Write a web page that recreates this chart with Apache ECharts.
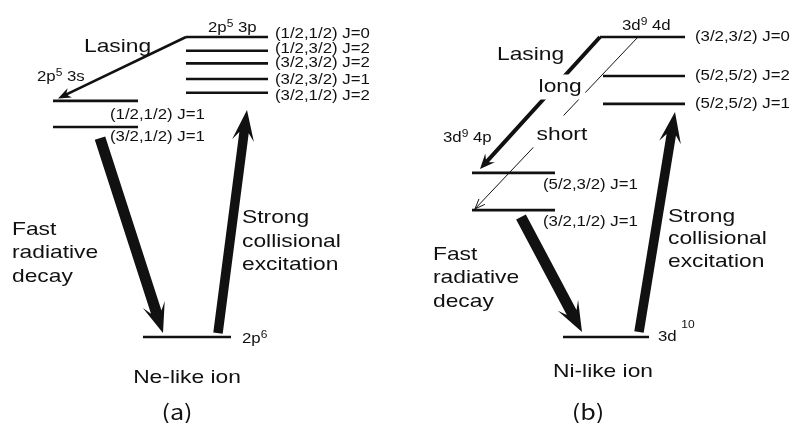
<!DOCTYPE html>
<html><head><meta charset="utf-8">
<script src="https://cdn.jsdelivr.net/npm/echarts@6/dist/echarts.min.js"></script>
<style>html,body{margin:0;padding:0;background:#fff}#c{width:795px;height:423px}</style>
</head><body><div id="c"></div>
<script>
// ---------------- data (energy in arbitrary units: ground = 0, upper laser level = 100)
const neUpperLabels = ['(1/2,1/2) J=0','(1/2,3/2) J=2','(3/2,3/2) J=2','(3/2,3/2) J=1','(3/2,1/2) J=2'];
const neUpperEnergies = [100, 95.4, 91.2, 86.0, 81.4];
const neLowerLabels = ['(1/2,1/2) J=1','(3/2,1/2) J=1'];
const neLowerEnergies = [78.7, 70.0];
const neGroundEnergy = 0;
const niUpperLabels = ['(3/2,3/2) J=0','(5/2,5/2) J=2','(5/2,5/2) J=1'];
const niUpperEnergies = [100, 87.0, 77.7];
const niLowerLabels = ['(5/2,3/2) J=1','(3/2,1/2) J=1'];
const niLowerEnergies = [54.7, 42.3];
const niGroundEnergy = 0;
// transitions: [from energy, to energy]
const neLasing = [100, 79.5];
const neDecay = [66.3, 1.3];
const neExcitation = [1.3, 75.7];
const niLasingLong = [100, 56.0];
const niLasingShort = [100, 42.7];
const niDecay = [40.0, 1.7];
const niExcitation = [1.7, 75.0];

// ---------------- layout (horizontal placement in diagram units, styles)
const FONT = '"Liberation Sans", Arial, Helvetica, sans-serif';
const INK = '#111';
const SX = 1.2;
const X = {
  neUpper:[186,268], neLower:[53,138], neGround:[143,231],
  niTop:[600,685], niUpper:[603,685], niLower:[472,555], niGround:[563,649]
};
const levelData = [];
neUpperEnergies.forEach(e => levelData.push([X.neUpper[0], X.neUpper[1], e]));
neLowerEnergies.forEach(e => levelData.push([X.neLower[0], X.neLower[1], e]));
levelData.push([X.neGround[0], X.neGround[1], neGroundEnergy]);
niUpperEnergies.forEach((e,i) => levelData.push([i === 0 ? X.niTop[0] : X.niUpper[0], X.niUpper[1], e]));
niLowerEnergies.forEach(e => levelData.push([X.niLower[0], X.niLower[1], e]));
levelData.push([X.niGround[0], X.niGround[1], niGroundEnergy]);

const ARROW = {
  thick:   {w: 11,  head: 30, hw: 11.5, notch: 8},
  thickUp: {w: 9.5, head: 31, hw: 11,   notch: 8},
  lasing:  {w: 2.6, head: 13, hw: 5,    notch: 3},
  long:    {w: 4,   head: 15, hw: 6.5,  notch: 4},
  short:   {w: 1,   head: 10, hw: 4,    open: true}
};
const arrowDefs = [
  {x:[186,58],  e:neLasing,      s:'lasing'},
  {x:[100,163], e:neDecay,       s:'thick'},
  {x:[218,247], e:neExcitation,  s:'thickUp'},
  {x:[600,480], e:niLasingLong,  s:'long'},
  {x:[638,475], e:niLasingShort, s:'short'},
  {x:[521,582], e:niDecay,       s:'thick'},
  {x:[639,675], e:niExcitation,  s:'thickUp'}
];

// texts: x, energy position, string, kind, align
const texts = [];
const neUpperDy = [0.9, 0.6, 0, -0.3, -1.0];
neUpperLabels.forEach((t,i) => texts.push({x:275, e:neUpperEnergies[i] + neUpperDy[i], t, k:'lab'}));
const neLowerDy = [-4.8, -3.4];
neLowerLabels.forEach((t,i) => texts.push({x:110, e:neLowerEnergies[i] + neLowerDy[i], t, k:'lab'}));
niUpperLabels.forEach((t,i) => texts.push({x:695, e:niUpperEnergies[i], t, k:'lab'}));
const niLowerDy = [-4.0, -3.9];
niLowerLabels.forEach((t,i) => texts.push({x:543, e:niLowerEnergies[i] + niLowerDy[i], t, k:'lab'}));
const annotations = [
  {x:208, e:103.0, t:'2p{s|5} 3p', k:'cfg'},
  {x:84,  e:96.7,  t:'Lasing', k:'big'},
  {x:37,  e:86.7,  t:'2p{s|5} 3s', k:'cfg'},
  {x:12,  e:35.8,  t:'Fast', k:'big'},
  {x:12,  e:28.0,  t:'radiative', k:'big'},
  {x:12,  e:20.2,  t:'decay', k:'big'},
  {x:242, e:39.6,  t:'Strong', k:'big'},
  {x:242, e:31.8,  t:'collisional', k:'big'},
  {x:242, e:24.0,  t:'excitation', k:'big'},
  {x:242, e:-0.7,  t:'2p{s|6}', k:'cfg'},
  {x:187, e:-13.6, t:'Ne-like ion', k:'big', a:'center'},
  {x:177, e:-25.0, t:'(a)', k:'cap', a:'center'},
  {x:622, e:103.7, t:'3d{s|9} 4d', k:'cfg'},
  {x:497, e:94.0,  t:'Lasing', k:'big'},
  {x:535, e:83.3,  t:'long', k:'big', bg:[3,3,3,3]},
  {x:533, e:68.5,  t:'short', k:'big', bg:[10,3,3,3]},
  {x:443, e:66.3,  t:'3d{s|9} 4p', k:'cfg'},
  {x:433, e:27.3,  t:'Fast', k:'big'},
  {x:433, e:19.7,  t:'radiative', k:'big'},
  {x:433, e:11.8,  t:'decay', k:'big'},
  {x:668, e:40.1,  t:'Strong', k:'big'},
  {x:668, e:32.6,  t:'collisional', k:'big'},
  {x:668, e:25.0,  t:'excitation', k:'big'},
  {x:658, e:0,     t:'3d {S|10}', k:'cfg'},
  {x:603, e:-11.7, t:'Ni-like ion', k:'big', a:'center'},
  {x:588, e:-25.0, t:'(b)', k:'cap', a:'center'}
];
annotations.forEach(a => texts.push(a));

const KIND = {
  big: {fontSize:19, fontFamily:FONT},
  lab: {fontSize:14, fontFamily:FONT},
  cfg: {fontSize:14, fontFamily:FONT},
  cap: {fontSize:21, fontFamily:'"Noto Sans CJK JP", "Noto Sans", sans-serif'}
};

function arrowShape(p0, p1, st) {
  const dx = p1[0]-p0[0], dy = p1[1]-p0[1], L = Math.hypot(dx, dy);
  const ux = dx/L, uy = dy/L, nx = -uy, ny = ux;
  const barbA = [p1[0]-ux*st.head+nx*st.hw, p1[1]-uy*st.head+ny*st.hw];
  const barbB = [p1[0]-ux*st.head-nx*st.hw, p1[1]-uy*st.head-ny*st.hw];
  if (st.open) {
    return {type:'group', children:[
      {type:'line', shape:{x1:p0[0], y1:p0[1], x2:p1[0], y2:p1[1]}, style:{stroke:INK, lineWidth:st.w}},
      {type:'polyline', shape:{points:[barbA, [p1[0], p1[1]], barbB]}, style:{stroke:INK, lineWidth:st.w, fill:'none'}}
    ]};
  }
  const h = st.w/2, b = st.head - st.notch;
  const pts = [
    [p0[0]+nx*h, p0[1]+ny*h],
    [p1[0]-ux*b+nx*h, p1[1]-uy*b+ny*h],
    barbA,
    [p1[0], p1[1]],
    barbB,
    [p1[0]-ux*b-nx*h, p1[1]-uy*b-ny*h],
    [p0[0]-nx*h, p0[1]-ny*h]
  ];
  return {type:'polygon', shape:{points:pts}, style:{fill:INK}};
}

const chart = echarts.init(document.getElementById('c'), null, {renderer:'canvas'});
chart.setOption({
  backgroundColor:'#fff',
  animation:false,
  grid:{left:0, right:0, top:37, bottom:86},
  xAxis:{type:'value', min:0, max:795, show:false},
  yAxis:{type:'value', min:0, max:100, show:false},
  series:[
    {
      type:'custom', name:'levels', z:2,
      encode:{x:[0,1], y:2},
      data: levelData,
      clip:false,
      renderItem(params, api) {
        const a = api.coord([api.value(0), api.value(2)]);
        const b = api.coord([api.value(1), api.value(2)]);
        return {type:'line', shape:{x1:a[0], y1:a[1], x2:b[0], y2:b[1]}, style:{stroke:INK, lineWidth:2.6}};
      }
    },
    {
      type:'custom', name:'transitions', z:3,
      encode:{x:[0,2], y:[1,3]},
      data: arrowDefs.map(d => [d.x[0], d.e[0], d.x[1], d.e[1]]),
      clip:false,
      renderItem(params, api) {
        const p0 = api.coord([api.value(0), api.value(1)]);
        const p1 = api.coord([api.value(2), api.value(3)]);
        return arrowShape(p0, p1, ARROW[arrowDefs[params.dataIndex].s]);
      }
    },
    {
      type:'custom', name:'texts', z:5,
      encode:{x:0, y:1},
      data: texts.map(t => [t.x, t.e]),
      clip:false,
      renderItem(params, api) {
        const d = texts[params.dataIndex];
        const p = api.coord([api.value(0), api.value(1)]);
        const k = KIND[d.k];
        const style = {
          text: d.t, x:0, y:0, fill:INK,
          fontSize:k.fontSize, fontFamily:k.fontFamily,
          align: d.a || 'left', verticalAlign:'middle',
          rich: {
            s:{fontSize:10, fontFamily:FONT, fill:INK, padding:[0,0,8,0]},
            S:{fontSize:10, fontFamily:FONT, fill:INK, padding:[0,0,24,0]}
          }
        };
        if (d.bg) { style.backgroundColor = '#fff'; style.padding = d.bg; }
        return {type:'text', x:p[0], y:p[1], scaleX:SX, style};
      }
    }
  ]
});
</script>
</body></html>
